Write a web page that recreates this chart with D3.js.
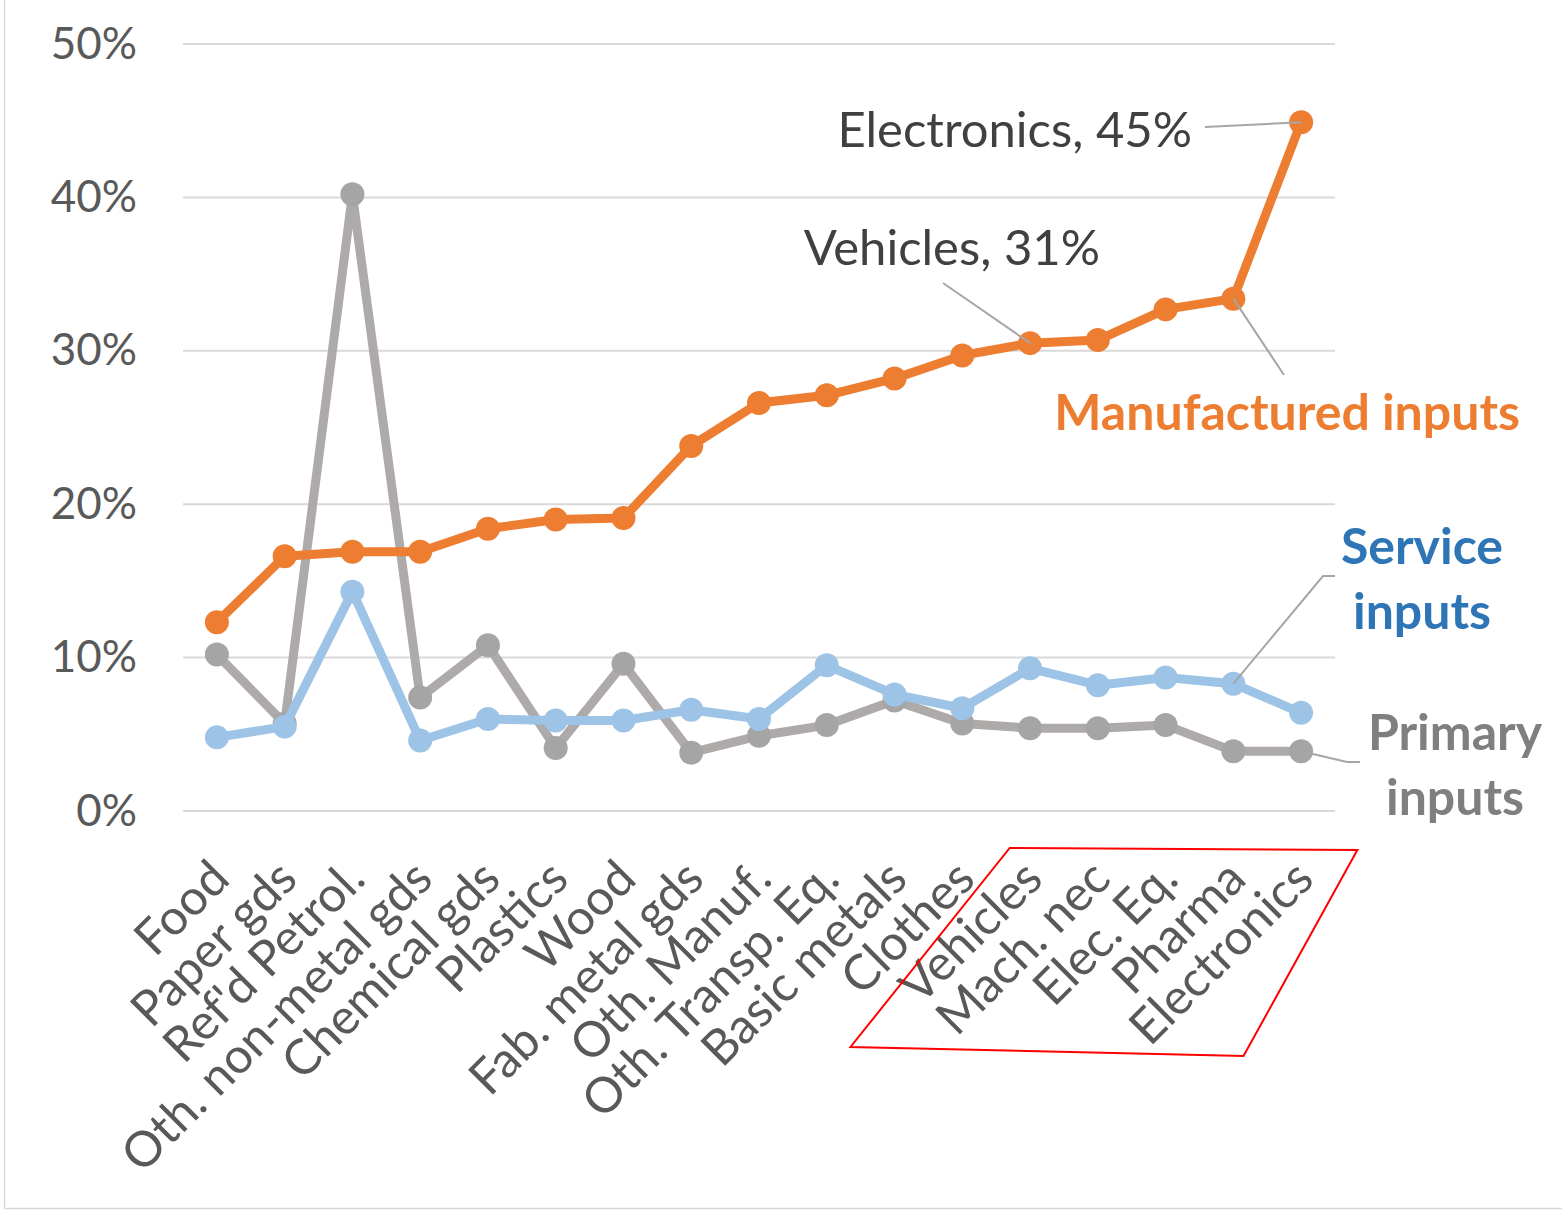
<!DOCTYPE html>
<html>
<head>
<meta charset="utf-8">
<script src="https://cdn.jsdelivr.net/npm/d3@7"></script>
<style>
  html, body { margin: 0; padding: 0; background: #fff; }
  svg { display: block; font-family: Lato, "Open Sans", sans-serif; }
</style>
</head>
<body>
<svg id="chart" width="1562" height="1211"></svg>
<script>
// Industries, ordered by share of manufactured inputs
const categories = ["Food", "Paper gds", "Ref'd Petrol.", "Oth. non-metal gds", "Chemical gds",
  "Plastics", "Wood", "Fab. metal gds", "Oth. Manuf.", "Oth. Transp. Eq.", "Basic metals",
  "Clothes", "Vehicles", "Mach. nec", "Elec. Eq.", "Pharma", "Electronics"];

// Shares of inputs (fractions)
const manufactured = [0.123, 0.166, 0.169, 0.169, 0.184, 0.190, 0.191, 0.238, 0.266, 0.271, 0.282,
  0.297, 0.305, 0.307, 0.327, 0.334, 0.449];
const service = [0.048, 0.055, 0.143, 0.046, 0.060, 0.059, 0.059, 0.066, 0.060, 0.095, 0.076,
  0.067, 0.093, 0.082, 0.087, 0.083, 0.064];
const primary = [0.102, 0.057, 0.402, 0.074, 0.108, 0.041, 0.096, 0.038, 0.049, 0.056, 0.072,
  0.057, 0.054, 0.054, 0.056, 0.039, 0.039];

const yTicks = [0, 0.1, 0.2, 0.3, 0.4, 0.5];
const highlighted = ["Vehicles", "Electronics"];

const svg = d3.select("#chart");

const x = d3.scalePoint().domain(categories).range([183, 1335]).padding(0.5);
const y = d3.scaleLinear().domain([0, 0.5]).range([811, 44]);

// chart frame
svg.append("line").attr("x1", 4.5).attr("x2", 4.5).attr("y1", 0).attr("y2", 1208.5)
  .attr("stroke", "#d9d9d9").attr("stroke-width", 1.5);
svg.append("line").attr("x1", 4.5).attr("x2", 1562).attr("y1", 1208.5).attr("y2", 1208.5)
  .attr("stroke", "#d9d9d9").attr("stroke-width", 1.5);

// gridlines
svg.append("g").selectAll("line").data(yTicks).join("line")
  .attr("x1", 183).attr("x2", 1335)
  .attr("y1", d => y(d)).attr("y2", d => y(d))
  .attr("stroke", "#d9d9d9").attr("stroke-width", 2);

// y axis labels
const yAxis = d3.axisLeft(y).tickValues(yTicks).tickFormat(d3.format(".0%")).tickSize(0).tickPadding(0);
svg.append("g").attr("transform", "translate(137,0)").call(yAxis)
  .call(g => g.select(".domain").remove())
  .selectAll("text")
  .attr("fill", "#595959").attr("font-size", 44).attr("font-family", "Lato, sans-serif");

// x axis labels, rotated
const xAxis = d3.axisBottom(x).tickSize(0).tickPadding(0);
svg.append("g").attr("transform", "translate(0,811)").call(xAxis)
  .call(g => g.select(".domain").remove())
  .selectAll("text")
  .attr("fill", "#595959").attr("font-size", 49).attr("font-family", "Lato, sans-serif")
  .attr("text-anchor", "end")
  .attr("dy", null).attr("y", 0)
  .attr("transform", "translate(1,57) rotate(-45)")
  .attr("dominant-baseline", "central");

// highlight box round the last industries
const i0 = categories.indexOf(highlighted[0]);
const i1 = categories.indexOf(highlighted[1]);
const step = x.step();
const box = [
  [x(categories[i0]) - step * 0.3, 848],
  [x(categories[i1]) + step * 0.83, 850],
  [x(categories[i1]) - step * 0.85, 1056],
  [x(categories[i0]) - step * 2.65, 1047]
];
svg.append("polygon").attr("points", box.map(p => p.join(",")).join(" "))
  .attr("fill", "none").attr("stroke", "#ff0000").attr("stroke-width", 2);

const line = d3.line().x((d, i) => x(categories[i])).y(d => y(d));

function drawSeries(values, lineColor, markColor) {
  const g = svg.append("g");
  g.append("path").datum(values).attr("d", line)
    .attr("fill", "none").attr("stroke", lineColor).attr("stroke-width", 9)
    .attr("stroke-linejoin", "round");
  g.selectAll("circle").data(values).join("circle")
    .attr("cx", (d, i) => x(categories[i])).attr("cy", d => y(d)).attr("r", 12)
    .attr("fill", markColor);
}

drawSeries(primary, "#aeaaaa", "#a5a5a5");
drawSeries(service, "#9dc3e6", "#9dc3e6");
drawSeries(manufactured, "#ed7d31", "#ed7d31");

// leader lines
const leader = (pts) => svg.append("polyline").attr("points", pts.map(p => p.join(",")).join(" "))
  .attr("fill", "none").attr("stroke", "#a6a6a6").attr("stroke-width", 2);

const iE = categories.indexOf("Electronics");
const iV = categories.indexOf("Vehicles");
const iP = categories.indexOf("Pharma");
leader([[1205, 127], [x(categories[iE]), y(manufactured[iE])]]);
leader([[943, 283], [x(categories[iV]), y(manufactured[iV])]]);
leader([[1284, 375], [x(categories[iP]), y(manufactured[iP])]]);
leader([[1335, 576], [1323, 576], [x(categories[iP]), y(service[iP])]]);
leader([[x(categories[iE]), y(primary[iE])], [1347, 762], [1360, 762]]);

// point labels
svg.append("text").attr("x", 1192).attr("y", 147).attr("text-anchor", "end")
  .attr("font-size", 49).attr("fill", "#404040")
  .text(`Electronics, ${d3.format(".0%")(manufactured[iE])}`);
svg.append("text").attr("x", 1100).attr("y", 265).attr("text-anchor", "end")
  .attr("font-size", 49).attr("fill", "#404040")
  .text(`Vehicles, ${d3.format(".0%")(manufactured[iV])}`);

// series labels
svg.append("text").attr("x", 1520).attr("y", 430).attr("text-anchor", "end")
  .attr("font-size", 50).attr("font-weight", "bold").attr("fill", "#ed7d31")
  .text("Manufactured inputs");

const multi = (lines, cx, y0, color) => {
  const t = svg.append("text").attr("text-anchor", "middle")
    .attr("font-size", 50).attr("font-weight", "bold").attr("fill", color);
  lines.forEach((s, k) => t.append("tspan").attr("x", cx).attr("y", y0 + k * 65).text(s));
};
multi(["Service", "inputs"], 1422, 564, "#2e75b6");
multi(["Primary", "inputs"], 1455, 750, "#7f7f7f");
</script>
</body>
</html>
